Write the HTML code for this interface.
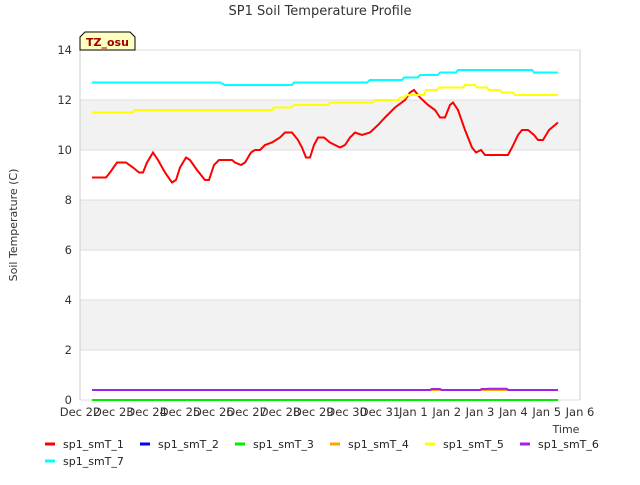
<!DOCTYPE html>
<html><head><meta charset="utf-8"><style>
body{margin:0;background:#fff;font-family:"Liberation Sans","DejaVu Sans",sans-serif}
svg text{font-family:"DejaVu Sans","Liberation Sans",sans-serif}
</style></head><body>
<svg id="c" width="640" height="480" xmlns="http://www.w3.org/2000/svg">
<rect width="640" height="480" fill="#fff"/>
<text x="320" y="15" text-anchor="middle" font-size="13" fill="#333">SP1 Soil Temperature Profile</text>
<text x="17" y="225" text-anchor="middle" font-size="11" fill="#333" transform="rotate(-90 17 225)">Soil Temperature (C)</text>
<text x="566" y="433" text-anchor="middle" font-size="11" fill="#333">Time</text>
<g id="grid"></g><g id="series"></g><g id="axes"></g><g id="legend"></g>
<g><path d="M80,50 L80,37 L85,32 L130,32 L135,37 L135,50 Z" fill="#ffffc0" stroke="#000"/><text x="86" y="46" font-size="11" font-weight="bold" fill="#a00000">TZ_osu</text></g>
</svg>
<script>
const xTickLabels=["Dec 22","Dec 23","Dec 24","Dec 25","Dec 26","Dec 27","Dec 28","Dec 29","Dec 30","Dec 31","Jan 1","Jan 2","Jan 3","Jan 4","Jan 5","Jan 6"];
const yTicks=[0,2,4,6,8,10,12,14];
const t1=[0.36,0.78,0.9,1.11,1.38,1.59,1.77,1.89,2.01,2.19,2.34,2.55,2.76,2.88,3.0,3.18,3.3,3.51,3.75,3.87,4.02,4.17,4.56,4.65,4.83,4.95,5.13,5.25,5.4,5.55,5.76,6.0,6.15,6.36,6.54,6.66,6.78,6.9,7.02,7.14,7.32,7.5,7.65,7.8,7.95,8.1,8.25,8.46,8.7,8.94,9.15,9.45,9.75,9.9,10.02,10.2,10.44,10.65,10.8,10.95,11.1,11.19,11.34,11.55,11.76,11.88,12.03,12.15,12.6,12.84,12.96,13.14,13.26,13.44,13.62,13.74,13.89,14.07,14.25,14.34];
const v1=[8.9,8.9,9.1,9.5,9.5,9.3,9.1,9.1,9.5,9.9,9.6,9.1,8.7,8.8,9.3,9.7,9.6,9.2,8.8,8.8,9.4,9.6,9.6,9.5,9.4,9.5,9.9,10.0,10.0,10.2,10.3,10.5,10.7,10.7,10.4,10.1,9.7,9.7,10.2,10.5,10.5,10.3,10.2,10.1,10.2,10.5,10.7,10.6,10.7,11.0,11.3,11.7,12.0,12.3,12.4,12.1,11.8,11.6,11.3,11.3,11.8,11.9,11.6,10.8,10.1,9.9,10.0,9.8,9.8,9.8,10.1,10.6,10.8,10.8,10.6,10.4,10.4,10.8,11.0,11.1];
const t7=[0.36,4.2,4.35,6.36,6.42,8.61,8.7,9.66,9.72,10.14,10.2,10.74,10.8,11.28,11.34,13.56,13.62,14.34];
const v7=[12.7,12.7,12.6,12.6,12.7,12.7,12.8,12.8,12.9,12.9,13.0,13.0,13.1,13.1,13.2,13.2,13.1,13.1];
const t5=[0.36,1.59,1.65,5.76,5.82,6.36,6.42,7.44,7.5,8.79,8.85,9.54,9.6,9.75,9.81,10.32,10.38,10.71,10.77,11.49,11.55,11.85,11.91,12.21,12.27,12.6,12.66,12.99,13.05,14.34];
const v5=[11.5,11.5,11.6,11.6,11.7,11.7,11.8,11.8,11.9,11.9,12.0,12.0,12.1,12.1,12.2,12.2,12.4,12.4,12.5,12.5,12.6,12.6,12.5,12.5,12.4,12.4,12.3,12.3,12.2,12.2];
const t6=[0.36,10.5,10.55,10.8,10.85,12.0,12.05,12.2,12.25,12.8,12.85,14.34];
const v6=[0.4,0.4,0.44,0.44,0.4,0.4,0.44,0.44,0.45,0.45,0.4,0.4];
const t4=[0.36,14.34];const v4=[0.4,0.4];
const t3=[0.36,14.34];const v3=[0,0];
const t2=[0.36,14.34];const v2=[0,0];
const X=d=>80+d*500/15, Y=v=>400-v*25;
const NS="http://www.w3.org/2000/svg";
function mk(tag,attrs,parent,txt){const e=document.createElementNS(NS,tag);for(const k in attrs)e.setAttribute(k,attrs[k]);if(txt!=null)e.textContent=txt;document.getElementById(parent).appendChild(e);return e;}
for(let b=2;b<14;b+=4){const r=mk('rect',{x:80,y:Y(b+2),width:500,height:50,fill:'#f2f2f2'},'grid');

}
yTicks.forEach(v=>{const l=mk('line',{x1:80,x2:580,y1:Y(v),y2:Y(v),stroke:'#dcdcdc'},'grid');


const t=mk('text',{x:72,y:Y(v)+4,'text-anchor':'end','font-size':11.5,fill:'#333'},'axes',String(v));

});
mk('line',{x1:80,x2:80,y1:50,y2:400,stroke:'#ccc'},'grid');
mk('line',{x1:580,x2:580,y1:50,y2:400,stroke:'#ccc'},'grid');
xTickLabels.forEach((s,i)=>{const t=mk('text',{x:X(i),y:416,'text-anchor':'middle','font-size':11.5,fill:'#333'},'axes',s);

});
const series=[["sp1_smT_1","#ff0000",t1,v1],["sp1_smT_2","#0000ff",t2,v2],["sp1_smT_3","#00ee00",t3,v3],["sp1_smT_4","#ffa500",t4,v4],["sp1_smT_5","#ffff00",t5,v5],["sp1_smT_6","#a020f0",t6,v6],["sp1_smT_7","#00ffff",t7,v7]];
series.forEach(([n,c,t,v],i)=>{
const p=mk('polyline',{points:t.map((d,j)=>X(d)+','+Y(v[j])).join(' '),fill:'none',stroke:c,'stroke-width':2},'series');


const lx=i<6?45+i*95:45, ly=i<6?444:461;
const g=mk('g',{},'legend');


const ln=document.createElementNS(NS,'line');ln.setAttribute('x1',lx);ln.setAttribute('x2',lx+10);ln.setAttribute('y1',ly);ln.setAttribute('y2',ly);ln.setAttribute('stroke',c);ln.setAttribute('stroke-width',3);g.appendChild(ln);
const tx=document.createElementNS(NS,'text');tx.setAttribute('x',lx+18);tx.setAttribute('y',ly+4);tx.setAttribute('font-size',11);tx.setAttribute('fill','#222');tx.textContent=n;g.appendChild(tx);
});
</script>
</body></html>
